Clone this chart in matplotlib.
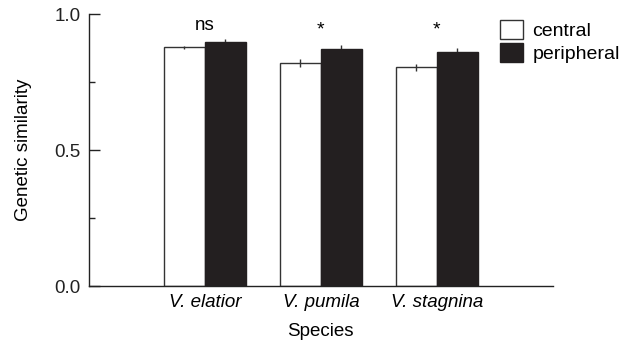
import matplotlib
matplotlib.use("Agg")
import matplotlib.pyplot as plt
import numpy as np
from matplotlib.patches import Patch

plt.rcParams['font.family'] = ['Liberation Sans', 'DejaVu Sans']

species = ["V. elatior", "V. pumila", "V. stagnina"]
central = [0.878, 0.819, 0.805]
central_err = [0.005, 0.015, 0.013]
peripheral = [0.897, 0.873, 0.859]
peripheral_err = [0.01, 0.015, 0.015]
signif = ["ns", "*", "*"]

fig = plt.figure(figsize=(6.26, 3.43), dpi=100)
ax = fig.add_axes([0.142, 0.166, 0.741, 0.793])

x = np.arange(len(species))
w = 0.355
edge = "#333333"
ax.bar(x - w / 2, central, w, color="white", edgecolor=edge, linewidth=1.0, zorder=2)
ax.bar(x + w / 2, peripheral, w, color="#231f20", edgecolor="#231f20", linewidth=1.0, zorder=2)
ax.errorbar(x - w / 2, central, yerr=central_err, fmt="none", ecolor=edge, elinewidth=1.0, capsize=0, zorder=3)
ax.errorbar(x + w / 2, peripheral, yerr=peripheral_err, fmt="none", ecolor=edge, elinewidth=1.0, capsize=0, zorder=1)

for i, s in enumerate(signif):
    if s == "ns":
        ax.text(x[i], 0.925, s, ha="center", va="bottom", fontsize=13.5)
    else:
        ax.text(x[i], 0.91, s, ha="center", va="bottom", fontsize=14)

ax.set_xlim(-1, 3)
ax.set_ylim(0, 1.0)
ax.set_xticks(x)
ax.set_xticklabels(species, style="italic", fontsize=13.5)
ax.tick_params(axis="x", length=0, pad=6)
ax.set_yticks([0, 0.5, 1.0])
ax.set_yticklabels(["0.0", "0.5", "1.0"], fontsize=13.5)
ax.set_yticks([0.25, 0.75], minor=True)
ax.tick_params(axis="y", which="major", direction="in", length=8, width=1.0, colors="#222222", labelcolor="#222222", pad=6)
ax.tick_params(axis="y", which="minor", direction="in", length=4, width=1.0, colors="#222222")
for sp in ["top", "right"]:
    ax.spines[sp].set_visible(False)
for sp in ["left", "bottom"]:
    ax.spines[sp].set_color("#222222")
    ax.spines[sp].set_linewidth(1.0)

ax.set_ylabel("Genetic similarity", fontsize=13.5, labelpad=16)
ax.set_xlabel("Species", fontsize=13.5, labelpad=8)

handles = [Patch(facecolor="white", edgecolor=edge, label="central"),
           Patch(facecolor="#231f20", edgecolor="#231f20", label="peripheral")]
ax.legend(handles=handles, loc="upper left", bbox_to_anchor=(0.87, 1.007), frameon=False,
          fontsize=14, handlelength=1.15, handleheight=1.15, handletextpad=0.5,
          labelspacing=0.15, borderaxespad=0)

fig.savefig("out.png", dpi=100)
